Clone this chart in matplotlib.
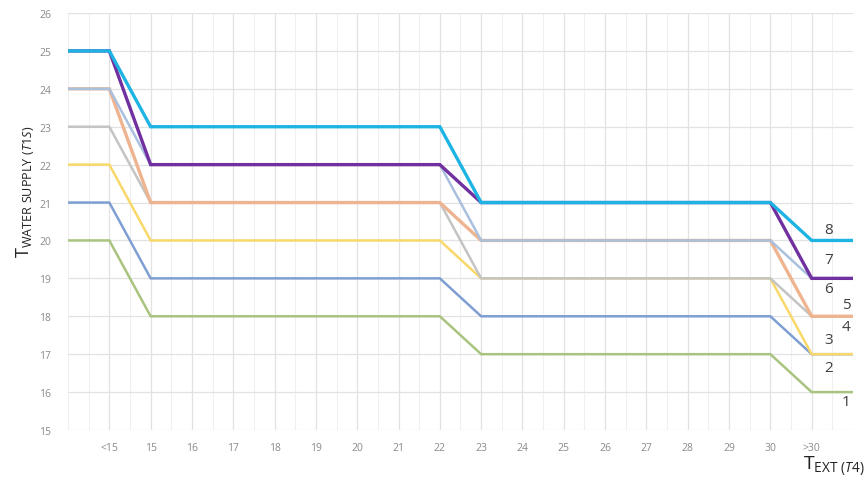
import numpy as np
import matplotlib.pyplot as plt
from matplotlib.ticker import MultipleLocator

# x positions: 0 = left edge, 1 = "<15", 2..17 = 15..30, 18 = ">30", 19 = right edge
x_labels = ["<15"] + [str(t) for t in range(15, 31)] + [">30"]

# supply temperature for each curve, at: edge, <15, 15..22, 23..30, >30, edge
def curve(a, b, c, d):
    return [a, a] + [b] * 8 + [c] * 8 + [d, d]

curve_1 = curve(20, 18, 17, 16)
curve_2 = curve(21, 19, 18, 17)
curve_3 = curve(22, 20, 19, 17)
curve_4 = curve(23, 21, 19, 18)
curve_5 = curve(24, 21, 20, 18)
curve_6 = curve(24, 22, 20, 19)
curve_7 = curve(25, 22, 21, 19)
curve_8 = curve(25, 23, 21, 20)

curves = [curve_1, curve_2, curve_3, curve_4, curve_5, curve_6, curve_7, curve_8]
colors = ["#a9c47f", "#7f9fd3", "#f9d86a", "#c4c4c4", "#eeb490", "#a9c0de", "#7030a0", "#1db4e4"]
widths = [1.8, 1.8, 1.8, 1.8, 2.4, 1.8, 2.4, 2.4]

curve_names = ["1", "2", "3", "4", "5", "6", "7", "8"]
name_x = [18.84, 18.40, 18.40, 18.84, 18.84, 18.40, 18.40, 18.40]
name_y = [15.74, 16.66, 17.40, 17.72, 18.30, 18.72, 19.51, 20.30]

plt.rcParams["mathtext.fontset"] = "custom"
plt.rcParams["mathtext.rm"] = "Open Sans"
plt.rcParams["mathtext.it"] = "Open Sans:italic"

fig = plt.figure(figsize=(8.67, 4.81), dpi=100)
ax = fig.add_axes([68 / 867, 1 - 431 / 481, (853 - 68) / 867, (431 - 14) / 481])

xs = np.arange(len(curve_1))
for ys, c, w in zip(curves, colors, widths):
    ax.plot(xs, ys, color=c, linewidth=w, solid_joinstyle="miter", zorder=3)

for name, tx, ty in zip(curve_names, name_x, name_y):
    ax.text(tx, ty, name, fontsize=11, color="#404040", ha="center", va="center",
            family="Open Sans", zorder=4)

ax.set_xlim(0, 19)
ax.set_ylim(15, 26)
ax.set_xticks(range(1, 19))
ax.set_xticklabels(x_labels)
ax.xaxis.set_minor_locator(MultipleLocator(0.5))
ax.set_yticks(range(15, 27))

ax.grid(which="major", color="#e2e2e2", linewidth=0.9, zorder=0)
ax.grid(which="minor", axis="x", color="#f0f0f0", linewidth=0.8, zorder=0)
for s in ax.spines.values():
    s.set_visible(False)
ax.tick_params(which="both", length=0, labelsize=7.5, labelcolor="#8a8a8a")
ax.tick_params(axis="x", pad=9)
ax.tick_params(axis="y", pad=12)
for lab in ax.get_xticklabels() + ax.get_yticklabels():
    lab.set_family("Open Sans")

fig.text(25 / 867, 1 - 192 / 481,
         r"$\mathrm{T}_{\mathrm{WATER\ SUPPLY}\ \mathit{(T1S)}}$",
         rotation=90, fontsize=13, color="#222222", ha="center", va="center")
fig.text(834 / 867, 1 - 466 / 481,
         r"$\mathrm{T}_{\mathrm{EXT}\ \mathit{(T4)}}$",
         fontsize=14, color="#222222", ha="center", va="center")

fig.savefig("out.png", dpi=100)
